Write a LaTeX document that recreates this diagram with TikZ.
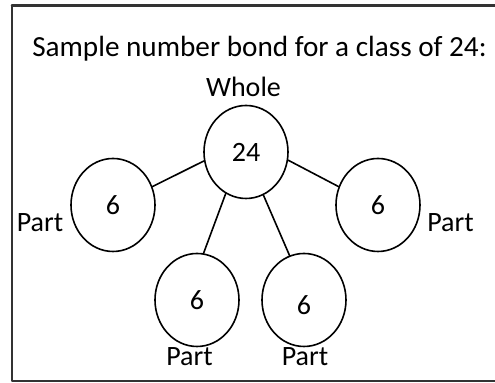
\documentclass[tikz,border=0pt]{standalone}
\usepackage{fontspec}
\setmainfont{Carlito}
\usetikzlibrary{shapes.geometric}

\begin{document}
\begin{tikzpicture}[x=0.5pt,y=-0.5pt,line cap=round,line join=round,
  bond/.style={ellipse,draw,line width=0.8pt,minimum width=42pt,minimum height=46.5pt,inner sep=0pt,font=\fontsize{14}{16}\selectfont},
  lbl/.style={anchor=base,inner sep=0pt,font=\fontsize{14}{16}\selectfont},
  link/.style={line width=0.8pt}]
\useasboundingbox (0,0) rectangle (495,383);
\clip (0,0) rectangle (495,383);
% outer frame, its right side lies off the page
\draw[line width=1.25pt,black!80] (12,5.3) -- (560,5.3);
\draw[line width=1.25pt,black!80] (12,5.3) -- (12,381) -- (560,381);
\node[lbl,font=\fontsize{14.6}{17}\selectfont] (title) at (259.5,56.5) {Sample number bond for a class of 24:};
\node[bond] (whole) at (246,152) {24};
\node[bond] (p1) at (113,205) {6};
\node[bond] (p2) at (378,205) {6};
\node[bond] (p3) at (197,300) {6};
\node[bond] (p4) at (304,300) {\raisebox{-2.5pt}[\height][0pt]{6}};
\draw[link] (whole.192) -- (p1.25);
\draw[link] (whole.349) -- (p2.155);
\draw[link] (whole.244) -- (p3.82);
\draw[link] (whole.292) -- (p4.108);
\node[lbl] (wlbl) at (243.5,96.5) {Whole};
\node[lbl] (l1) at (40,231.5) {Part};
\node[lbl] (l2) at (450.5,231.5) {Part};
\node[lbl] (l3) at (189.5,365.5) {Part};
\node[lbl] (l4) at (305,365.5) {Part};
\end{tikzpicture}
\end{document}
